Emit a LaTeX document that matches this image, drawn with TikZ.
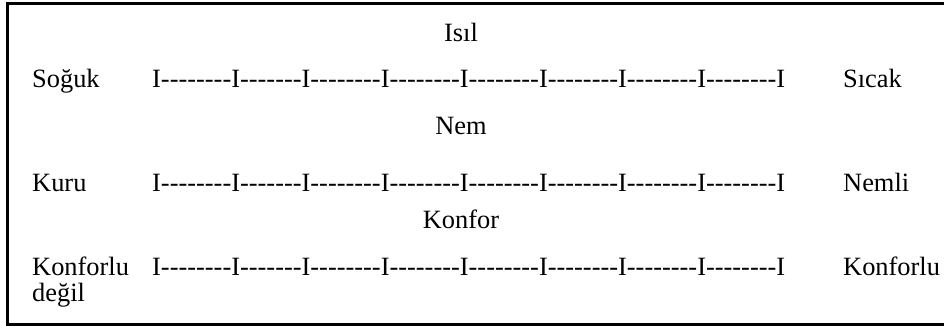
\documentclass[tikz,border=0pt]{standalone}
\usepackage{fontspec}
\setmainfont{Liberation Serif}[Ligatures=TeXOff]
\begin{document}
\begin{tikzpicture}[x=1pt,y=-1pt,
  txt/.style={inner sep=0pt,font=\fontsize{26.4}{26.5}\selectfont},
  endlabel/.style={txt,anchor=base west},
  heading/.style={txt,anchor=base},
  ruler/.style={txt,anchor=base west},
  frame/.style={line width=3pt}
]
\useasboundingbox (0,0) rectangle (944,326);
\clip (0,0) rectangle (944,326);
% open frame, its right side runs past the edge
\draw[frame] (960,3.3) -- (7.7,3.3) -- (7.7,324.8) -- (960,324.8);

% thermal scale
\node[heading] (isil) at (461,42) {Isıl};
\node[endlabel] (soguk) at (32,88) {Soğuk};
\node[ruler] (r1) at (152,88) {I--------I-------I--------I--------I--------I--------I--------I--------I};
\node[endlabel] (sicak) at (843,88) {Sıcak};

% humidity scale
\node[heading] (nem) at (461,135) {Nem};
\node[endlabel] (kuru) at (32,191) {Kuru};
\node[ruler] (r2) at (152,191) {I--------I-------I--------I--------I--------I--------I--------I--------I};
\node[endlabel] (nemli) at (843,191) {Nemli};

% comfort scale
\node[heading] (konfor) at (461,228) {Konfor};
\node[endlabel] (kdegil) at (32,275) {\begin{tabular}[t]{@{}l@{}}Konforlu\\değil\end{tabular}};
\node[ruler] (r3) at (152,275) {I--------I-------I--------I--------I--------I--------I--------I--------I};
\node[endlabel] (konforlu) at (843,275) {Konforlu};
\end{tikzpicture}
\end{document}
